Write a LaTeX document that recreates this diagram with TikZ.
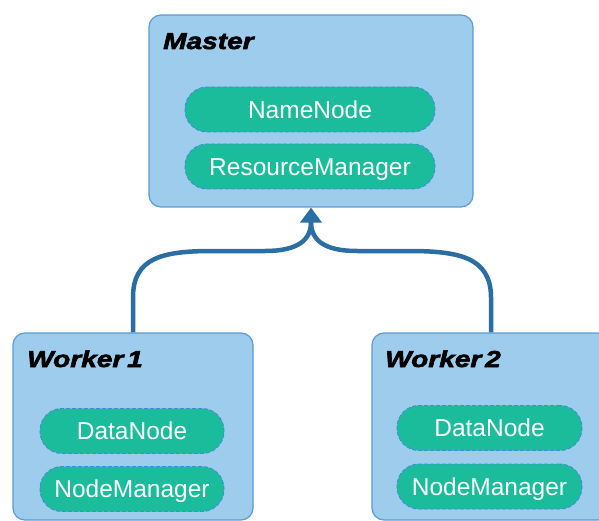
\documentclass[tikz,border=0pt]{standalone}
\usepackage{fontspec}
\setmainfont{Liberation Sans}
\newfontfamily\headfont{Liberation Sans}[FakeStretch=1.22,FakeBold=2.6]
\usetikzlibrary{arrows.meta}

\definecolor{boxfill}{HTML}{9DCCEC}
\definecolor{boxline}{HTML}{5B9BD5}
\definecolor{pillfill}{HTML}{1BBC9B}
\definecolor{pillline}{HTML}{3E8ED6}
\definecolor{linkcol}{HTML}{2A6EA3}

\tikzset{
  hostbox/.style={draw=boxline, fill=boxfill, line width=1.2pt,
    rounded corners=12pt, inner sep=0pt},
  pill/.style={draw=pillline, fill=pillfill, line width=0.9pt,
    dash pattern=on 4pt off 2pt, rounded corners=22pt, inner sep=0pt,
    minimum height=45pt, text=white, font=\fontsize{24.5}{26}\selectfont,
    text height=17.5pt, text depth=0pt},
  hostlabel/.style={anchor=base west, inner sep=0pt,
    font=\headfont\bfseries\itshape\fontsize{23}{24}\selectfont},
  link/.style={draw=linkcol, line width=4.5pt},
  tip/.style={-{Triangle[width=21pt,length=15pt]}}
}

\begin{document}
\begin{tikzpicture}[x=1pt,y=-1pt]
  \useasboundingbox (0,0) rectangle (599,521);
  \clip (0,0) rectangle (599,521);

  % master host
  \node[hostbox, minimum width=324pt, minimum height=192pt] (m) at (311,111) {};
  \node[hostlabel] (mlab) at (163,49) {Master};
  \node[pill, minimum width=250pt] (nn) at (310,109.5) {NameNode};
  \node[pill, minimum width=250pt] (rm) at (310,166.5) {ResourceManager};

  % worker hosts
  \node[hostbox, minimum width=240pt, minimum height=187pt] (w1) at (133,426.5) {};
  \node[hostlabel] (w1lab) at (27,367) {Worker\,1};
  \node[pill, minimum width=184pt] (dn1) at (132,431) {DataNode};
  \node[pill, minimum width=184pt] (nm1) at (132,489) {NodeManager};

  \node[hostbox, minimum width=238pt, minimum height=187pt] (w2) at (491,426.5) {};
  \node[hostlabel] (w2lab) at (385,367) {Worker\,2};
  \node[pill, minimum width=185pt] (dn2) at (489.5,428) {DataNode};
  \node[pill, minimum width=185pt] (nm2) at (489.5,486.5) {NodeManager};

  % links from workers to master
  \coordinate (jl) at (213,251);
  \coordinate (jr) at (409,251);
  \coordinate (jt) at (311,222);
  \draw[link] (w1.north) -- ++(0,-35) .. controls +(0,-40) and +(-50,0) .. (jl)
    -- (265,251) .. controls (298,251) and (311,240) .. (jt);
  \draw[link] (w2.north) -- ++(0,-35) .. controls +(0,-40) and +(50,0) .. (jr)
    -- (357,251) .. controls (324,251) and (311,240) .. (jt);
  \draw[link, tip] (jt) -- (m.south);
\end{tikzpicture}
\end{document}
